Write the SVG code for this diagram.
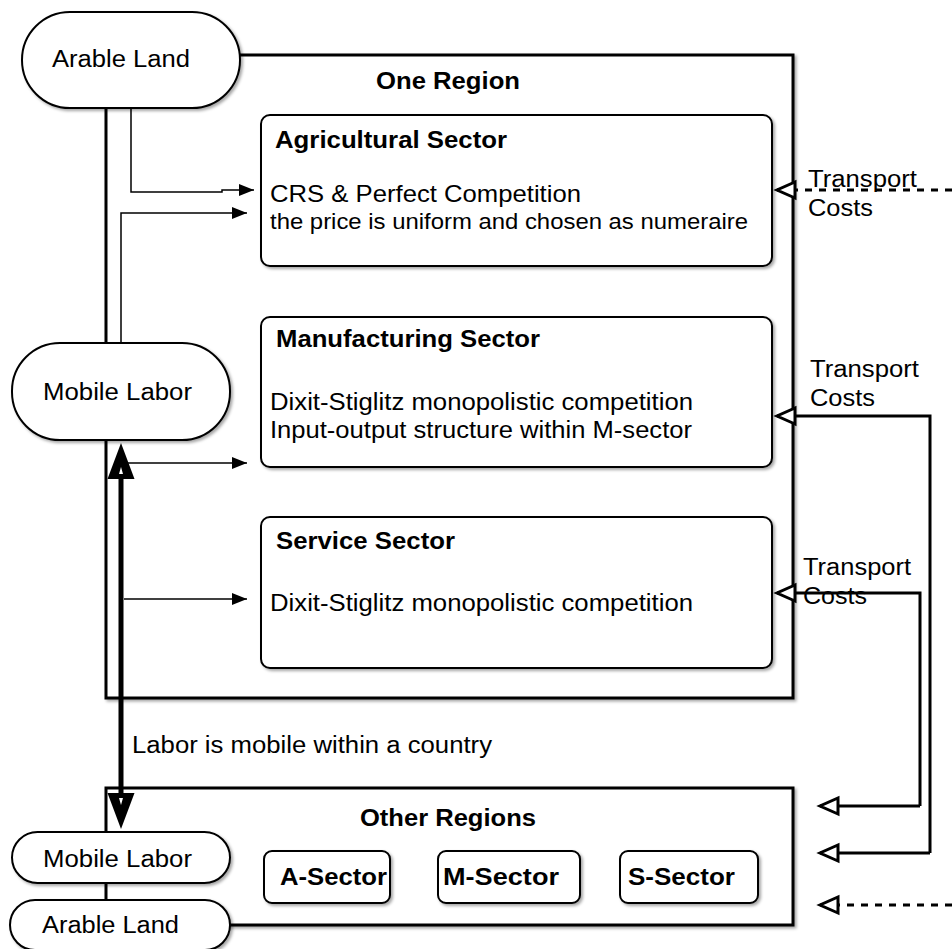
<svg xmlns="http://www.w3.org/2000/svg" width="952" height="949" viewBox="0 0 952 949">
<style>
text{font-family:"Liberation Sans",Arial,sans-serif;fill:#000}
.b{font-weight:bold}
.box{fill:#fff;stroke:#000;stroke-width:2}
.region{fill:#fff;stroke:#000;stroke-width:3}
.thin{fill:none;stroke:#000;stroke-width:1.5}
.tc{fill:none;stroke:#000;stroke-width:3}
.dot{fill:none;stroke:#000;stroke-width:3;stroke-dasharray:7 7}
</style>
<defs>
<filter id="sh" x="-10%" y="-10%" width="130%" height="140%">
<feDropShadow dx="2" dy="2" stdDeviation="1.5" flood-color="#000" flood-opacity="0.35"/>
</filter>
<marker id="fa" markerUnits="userSpaceOnUse" markerWidth="16" markerHeight="14" refX="15" refY="6" orient="auto" overflow="visible">
<path d="M0,0 L15,6 L0,12 z" fill="#000"/>
</marker>
<marker id="ha" markerUnits="userSpaceOnUse" markerWidth="22" markerHeight="20" refX="18" refY="8" orient="auto" overflow="visible">
<path d="M0,0 L18,8 L0,16 z" fill="#fff" stroke="#000" stroke-width="3"/>
</marker>
<marker id="ba" markerUnits="userSpaceOnUse" markerWidth="40" markerHeight="30" refX="0" refY="13.5" orient="auto-start-reverse" overflow="visible">
<path d="M0,0 L36,13.5 L0,27 z" fill="#000"/>
<path d="M5,11.5 L12,13.5 L5,15.5 z" fill="#fff"/>
</marker>
</defs>

<g id="one-region">
<rect class="region" x="106" y="55" width="687" height="643" filter="url(#sh)"/>
<text class="b" x="376" y="89" font-size="23.5" textLength="144" lengthAdjust="spacingAndGlyphs">One Region</text>
</g>
<g id="other-regions">
<rect class="region" x="106" y="788" width="687" height="137" filter="url(#sh)"/>
<text class="b" x="360" y="826" font-size="23.5" textLength="176" lengthAdjust="spacingAndGlyphs">Other Regions</text>
</g>

<g id="connectors">
<path class="thin" d="M131,108 V192 H222 V190 H254" marker-end="url(#fa)"/>
<path class="thin" d="M121,343 V213 H247" marker-end="url(#fa)"/>
<path class="thin" d="M126,463 H247" marker-end="url(#fa)"/>
<path class="thin" d="M124,599 H247" marker-end="url(#fa)"/>
<path d="M121,793 V479" fill="none" stroke="#000" stroke-width="5" marker-start="url(#ba)" marker-end="url(#ba)"/>
<path class="dot" d="M952,190 H777" marker-end="url(#ha)"/>
<path class="tc" d="M930,853 V416 H777" marker-end="url(#ha)"/>
<path class="tc" d="M930,853 H820" marker-end="url(#ha)"/>
<path class="tc" d="M920,806 V593 H777" marker-end="url(#ha)"/>
<path class="tc" d="M920,806 H820" marker-end="url(#ha)"/>
<path class="dot" d="M952,905 H820" marker-end="url(#ha)"/>
</g>

<g id="arable-land-top">
<rect class="box" x="22" y="12" width="218" height="96" rx="48" filter="url(#sh)"/>
<text x="52" y="67" font-size="23" textLength="138" lengthAdjust="spacingAndGlyphs">Arable Land</text>
</g>
<g id="mobile-labor-top">
<rect class="box" x="12" y="343" width="218" height="97" rx="48" filter="url(#sh)"/>
<text x="43" y="400" font-size="23" textLength="149" lengthAdjust="spacingAndGlyphs">Mobile Labor</text>
</g>

<g id="agricultural-sector">
<rect class="box" x="261" y="115" width="511" height="151" rx="9" filter="url(#sh)"/>
<text class="b" x="275" y="148" font-size="23.5" textLength="232" lengthAdjust="spacingAndGlyphs">Agricultural Sector</text>
<text x="270" y="202" font-size="24" textLength="311" lengthAdjust="spacingAndGlyphs">CRS &amp; Perfect Competition</text>
<text x="270" y="229" font-size="22" textLength="478" lengthAdjust="spacingAndGlyphs">the price is uniform and chosen as numeraire</text>
</g>
<g id="manufacturing-sector">
<rect class="box" x="261" y="317" width="511" height="150" rx="9" filter="url(#sh)"/>
<text class="b" x="276" y="347" font-size="23.5" textLength="264" lengthAdjust="spacingAndGlyphs">Manufacturing Sector</text>
<text x="270" y="410" font-size="23" textLength="423" lengthAdjust="spacingAndGlyphs">Dixit-Stiglitz monopolistic competition</text>
<text x="270" y="438" font-size="23" textLength="422" lengthAdjust="spacingAndGlyphs">Input-output structure within M-sector</text>
</g>
<g id="service-sector">
<rect class="box" x="261" y="517" width="511" height="151" rx="9" filter="url(#sh)"/>
<text class="b" x="276" y="549" font-size="23.5" textLength="179" lengthAdjust="spacingAndGlyphs">Service Sector</text>
<text x="270" y="611" font-size="23" textLength="423" lengthAdjust="spacingAndGlyphs">Dixit-Stiglitz monopolistic competition</text>
</g>

<g id="labels">
<text x="808" y="187" font-size="23" textLength="109" lengthAdjust="spacingAndGlyphs">Transport</text>
<text x="808" y="216" font-size="23" textLength="65" lengthAdjust="spacingAndGlyphs">Costs</text>
<text x="810" y="377" font-size="23" textLength="109" lengthAdjust="spacingAndGlyphs">Transport</text>
<text x="810" y="406" font-size="23" textLength="65" lengthAdjust="spacingAndGlyphs">Costs</text>
<text x="803" y="575" font-size="23" textLength="108" lengthAdjust="spacingAndGlyphs">Transport</text>
<text x="803" y="604" font-size="23" textLength="64" lengthAdjust="spacingAndGlyphs">Costs</text>
<text x="132" y="753" font-size="23" textLength="360" lengthAdjust="spacingAndGlyphs">Labor is mobile within a country</text>
</g>

<g id="mobile-labor-bottom">
<rect class="box" x="12" y="832" width="218" height="51" rx="25.5" filter="url(#sh)"/>
<text x="43" y="867" font-size="23" textLength="149" lengthAdjust="spacingAndGlyphs">Mobile Labor</text>
</g>
<g id="arable-land-bottom">
<rect class="box" x="10" y="900" width="220" height="50" rx="25" filter="url(#sh)"/>
<text x="42" y="933" font-size="23" textLength="137" lengthAdjust="spacingAndGlyphs">Arable Land</text>
</g>
<g id="a-sector">
<rect class="box" x="264" y="851" width="126" height="52" rx="8" filter="url(#sh)"/>
<text class="b" x="280" y="885" font-size="23.5" textLength="107" lengthAdjust="spacingAndGlyphs">A-Sector</text>
</g>
<g id="m-sector">
<rect class="box" x="438" y="851" width="142" height="52" rx="8" filter="url(#sh)"/>
<text class="b" x="443" y="885" font-size="23.5" textLength="116" lengthAdjust="spacingAndGlyphs">M-Sector</text>
</g>
<g id="s-sector">
<rect class="box" x="620" y="851" width="138" height="52" rx="8" filter="url(#sh)"/>
<text class="b" x="628" y="885" font-size="23.5" textLength="107" lengthAdjust="spacingAndGlyphs">S-Sector</text>
</g>
</svg>
